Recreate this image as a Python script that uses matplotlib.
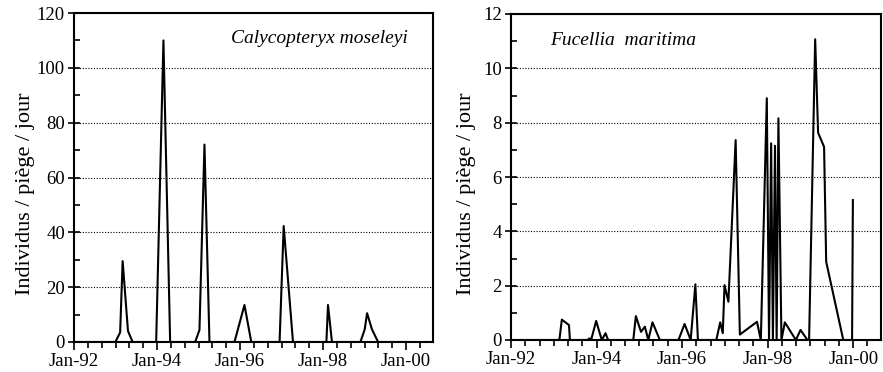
import matplotlib
matplotlib.use("Agg")
import matplotlib.pyplot as plt
import matplotlib.dates as mdates
import pandas as pd
import numpy as np

plt.rcParams['font.family'] = ['Liberation Serif', 'DejaVu Serif']

# ---- data ----
left_dates = ['1992-01-01', '1992-12-30', '1993-02-10', '1993-03-04', '1993-04-20', '1993-05-31',
              '1993-12-24', '1994-02-26', '1994-04-26', '1994-12-02', '1995-01-09', '1995-02-22',
              '1995-04-07', '1995-11-13', '1996-02-09', '1996-04-09', '1996-12-14', '1997-01-19',
              '1997-04-11', '1998-01-30', '1998-02-13', '1998-03-20', '1998-11-25', '1999-01-02',
              '1999-01-23', '1999-03-07', '1999-04-30', '2000-01-01']
left_values = [0, 0, 3.5, 29.5, 4, 0,
               0, 110, 0, 0, 4.4, 72,
               0, 0, 13.5, 0, 0, 42.3,
               0, 0, 13.5, 0, 0, 4.6,
               10.5, 4.6, 0, 0]

right_dates = ['1992-01-01', '1993-02-17', '1993-03-10', '1993-05-10', '1993-05-18', '1993-10-20',
               '1993-10-27', '1993-11-18', '1993-12-28', '1994-02-14', '1994-03-18', '1994-04-09',
               '1994-11-10', '1994-12-02', '1995-01-15', '1995-02-17', '1995-03-18', '1995-04-23',
               '1995-06-25', '1995-12-01', '1996-01-22', '1996-03-14', '1996-04-23', '1996-05-15',
               '1996-10-19', '1996-11-21', '1996-12-13', '1996-12-28', '1997-01-30', '1997-04-02',
               '1997-05-08', '1997-10-01', '1997-11-03', '1997-12-24', '1998-01-12', '1998-01-30',
               '1998-02-14', '1998-03-04', '1998-03-18', '1998-04-02', '1998-04-28', '1998-05-27',
               '1998-08-29', '1998-10-08', '1998-12-06', '1998-12-20', '1999-02-10', '1999-03-07',
               '1999-04-27', '1999-05-15', '1999-10-08', '1999-12-22', '1999-12-29']
right_values = [0, 0, 0.75, 0.55, 0, 0,
                0.05, 0.05, 0.7, 0, 0.25, 0,
                0, 0.88, 0.3, 0.49, 0, 0.65,
                0, 0, 0.59, 0, 2.05, 0,
                0, 0.65, 0.25, 2.02, 1.41, 7.36,
                0.2, 0.67, 0, 8.9, 0, 7.24,
                0, 7.15, 0, 8.16, 0, 0.65,
                0, 0.37, 0, 0, 11.07, 7.63,
                7.11, 2.88, 0, 0, 5.15]

left_title = 'Calycopteryx moseleyi'
right_title = 'Fucellia  maritima'
ylabel = 'Individus / piège / jour'
x_start, x_end = '1992-01-01', '2000-08-25'

fig = plt.figure(figsize=(8.83, 3.72), dpi=100)
axL = fig.add_axes([74/883, 30/372, 359/883, 329/372])
axR = fig.add_axes([511/883, 32/372, 370/883, 326/372])


def style(ax, ymax, ystep, label_x):
    ax.set_xlim(pd.Timestamp(x_start), pd.Timestamp(x_end))
    ax.set_ylim(0, ymax)
    ax.set_yticks(np.arange(0, ymax + 0.1, ystep))
    ax.set_yticks(np.arange(ystep / 2, ymax, ystep), minor=True)
    ax.xaxis.set_major_locator(mdates.YearLocator(2, month=1, day=1))
    ax.xaxis.set_minor_locator(mdates.MonthLocator(bymonth=[1, 5, 9]))
    ax.xaxis.set_major_formatter(mdates.DateFormatter('Jan-%y'))
    ax.tick_params(axis='x', which='major', direction='out', length=6, width=1.2,
                   labelsize=13.5, pad=2)
    ax.tick_params(axis='x', which='minor', direction='out', length=4, width=1.2)
    ax.tick_params(axis='y', which='major', direction='inout', length=9, width=1.2,
                   labelsize=13.5, pad=2)
    ax.tick_params(axis='y', which='minor', direction='in', length=4, width=1.2)
    for s in ax.spines.values():
        s.set_linewidth(1.5)
    ax.grid(axis='y', which='major', color='black', linestyle=(0, (1, 1.5)), linewidth=0.8)
    ax.set_axisbelow(True)
    ax.set_ylabel(ylabel, fontsize=16)
    ax.yaxis.set_label_coords(label_x, 0.45)


axL.plot(pd.to_datetime(left_dates), left_values, color='black', linewidth=1.5)
style(axL, 120, 20, -0.108)
axL.text(0.93, 0.91, left_title, transform=axL.transAxes, ha='right', va='baseline',
         fontsize=14, style='italic')

axR.plot(pd.to_datetime(right_dates), right_values, color='black', linewidth=1.5)
style(axR, 12, 2, -0.095)
axR.text(0.105, 0.905, right_title, transform=axR.transAxes, ha='left', va='baseline',
         fontsize=14, style='italic')

fig.savefig('out.png', dpi=100)
